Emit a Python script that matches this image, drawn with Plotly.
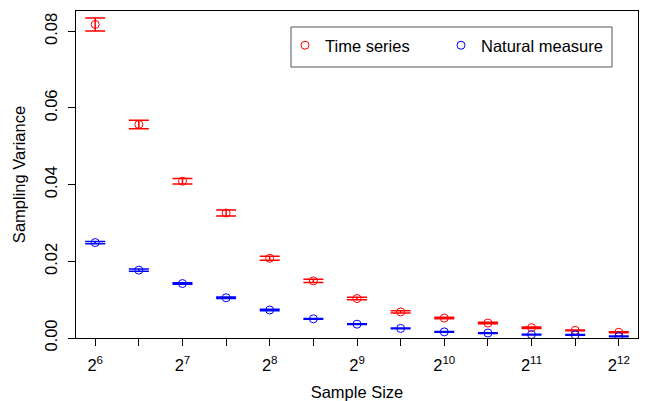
import plotly.graph_objects as go

exponents = [6, 6.5, 7, 7.5, 8, 8.5, 9, 9.5, 10, 10.5, 11, 11.5, 12]
sample_size = [2 ** e for e in exponents]

time_series = [0.0818, 0.0557, 0.0409, 0.0326, 0.0208, 0.0149, 0.0103,
               0.0068, 0.0052, 0.0039, 0.0027, 0.0020, 0.0015]
time_series_err = [0.0017, 0.0011, 0.0007, 0.0008, 0.0005, 0.0004, 0.0003,
                   0.0003, 0.0002, 0.0002, 0.0002, 0.0001, 0.0001]

natural = [0.0249, 0.0177, 0.0142, 0.0105, 0.0073, 0.0050, 0.0036,
           0.0025, 0.0016, 0.0013, 0.0009, 0.0008, 0.0004]
natural_err = [0.0003, 0.0003, 0.0002, 0.0002, 0.0002, 0.0001, 0.0001,
               0.0001, 0.0001, 0.0001, 0.0001, 0.0001, 0.0001]

x_tick_exps = exponents
x_tick_text = [f"2<sup>{int(e)}</sup>" if e == int(e) else "" for e in exponents]
y_ticks = [0.00, 0.02, 0.04, 0.06, 0.08]
y_tick_text = ["0.00", "0.02", "0.04", "0.06", "0.08"]

FONT = "Liberation Sans, Arial, sans-serif"
FS = 16.5

W, H = 650, 401
ML, MR, MT, MB = 76, 12, 11, 63
PW, PH = W - ML - MR, H - MT - MB


def px_x(p):
    return (p - ML) / PW


def px_y(p):
    return (H - MB - p) / PH


fig = go.Figure()
series = [("Time series", time_series, time_series_err, "#FF0000", "legend", 285),
          ("Natural measure", natural, natural_err, "#0000FF", "legend2", 441)]
for name, vals, errs, col, leg, _ in series:
    fig.add_trace(go.Scatter(
        x=sample_size, y=vals, mode="markers", name=name, legend=leg,
        marker=dict(symbol="circle-open", size=8, color=col, line=dict(width=1, color=col)),
        error_y=dict(type="data", array=errs, visible=True, color=col, thickness=1.5, width=10),
    ))

# legend frame
fig.add_shape(type="rect", xref="paper", yref="paper",
              x0=px_x(291), x1=px_x(612), y0=px_y(67), y1=px_y(27),
              line=dict(color="#555555", width=1), fillcolor="white", layer="below")

leg_common = dict(orientation="h", yanchor="top", xanchor="left", y=px_y(28),
                  borderwidth=0, bgcolor="rgba(0,0,0,0)", font=dict(size=FS))

fig.update_layout(
    width=W, height=H,
    margin=dict(l=ML, r=MR, t=MT, b=MB, autoexpand=False),
    paper_bgcolor="white", plot_bgcolor="white",
    font=dict(family=FONT, size=FS, color="black"),
    showlegend=True,
    legend=dict(x=px_x(series[0][5]), **leg_common),
    legend2=dict(x=px_x(series[1][5]), **leg_common),
    xaxis=dict(
        type="log", range=[5.78 * 0.30103, 12.22 * 0.30103],
        tickmode="array", tickvals=[2 ** e for e in x_tick_exps], ticktext=x_tick_text,
        ticks="outside", ticklen=7, tickcolor="black", tickwidth=1,
        ticklabelstandoff=5, automargin=False,
        showline=True, linecolor="black", linewidth=1, mirror=True,
        showgrid=False, zeroline=False,
        title=dict(text="Sample Size", standoff=17, font=dict(size=FS)),
    ),
    yaxis=dict(
        range=[0, 0.0853],
        tickmode="array", tickvals=y_ticks, ticktext=y_tick_text, tickangle=-90,
        ticks="outside", ticklen=7, tickcolor="black", tickwidth=1,
        ticklabelstandoff=4, automargin=False,
        showline=True, linecolor="black", linewidth=1, mirror=True,
        showgrid=False, zeroline=False,
        title=dict(text="Sampling Variance", standoff=12, font=dict(size=FS)),
    ),
)

fig.write_html("out.html")
